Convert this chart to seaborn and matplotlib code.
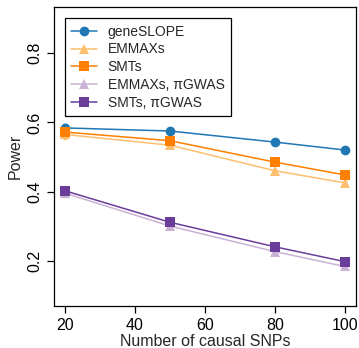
import numpy as np
import pandas as pd
import matplotlib
matplotlib.use("Agg")
import matplotlib.pyplot as plt
import seaborn as sns

# Number of causal SNPs
n_causal = [20, 50, 80, 100]

# Power per method
power_geneslope = [0.584, 0.575, 0.543, 0.520]
power_emmaxs = [0.565, 0.534, 0.460, 0.425]
power_smts = [0.572, 0.547, 0.485, 0.448]
power_emmaxs_pi = [0.395, 0.300, 0.226, 0.183]
power_smts_pi = [0.402, 0.311, 0.240, 0.197]

# Standard errors
se_geneslope = [0.010, 0.004, 0.004, 0.004]
se_emmaxs = [0.012, 0.006, 0.006, 0.006]
se_smts = [0.010, 0.005, 0.005, 0.005]
se_emmaxs_pi = [0.010, 0.005, 0.005, 0.005]
se_smts_pi = [0.012, 0.005, 0.005, 0.005]

methods = ["geneSLOPE", "EMMAXs", "SMTs", "EMMAXs, πGWAS", "SMTs, πGWAS"]
colors = ["#1f78b4", "#fdbf6f", "#ff7f00", "#cab2d6", "#6a3d9a"]
markers = ["o", "^", "s", "^", "s"]

power = [power_geneslope, power_emmaxs, power_smts, power_emmaxs_pi, power_smts_pi]
se = [se_geneslope, se_emmaxs, se_smts, se_emmaxs_pi, se_smts_pi]

df = pd.DataFrame({
    "snps": np.tile(n_causal, len(methods)),
    "power": np.concatenate(power),
    "se": np.concatenate(se),
    "method": np.repeat(methods, len(n_causal)),
})

sns.set_style("ticks")
plt.rcParams["font.family"] = ["Liberation Sans", "DejaVu Sans"]

fig = plt.figure(figsize=(3.59, 3.48), dpi=100)
ax = fig.add_axes([0.150, 0.121, 0.842, 0.859])

# Error bars drawn first so the markers sit on top
for m, c in zip(methods, colors):
    sub = df[df["method"] == m]
    ax.errorbar(sub["snps"], sub["power"], yerr=sub["se"], fmt="none",
                ecolor=c, elinewidth=1.0, capsize=1.5, capthick=1.0, zorder=2)

sns.lineplot(data=df, x="snps", y="power", hue="method", style="method",
             hue_order=methods, style_order=methods,
             palette=dict(zip(methods, colors)),
             markers=dict(zip(methods, markers)), dashes=False,
             markersize=7, markeredgewidth=0, linewidth=1.1,
             ax=ax, legend=True, zorder=3)

ax.set_xlim(16.8, 103.2)
ax.set_ylim(0.069, 0.934)
ax.set_xticks([20, 40, 60, 80, 100])
ax.set_yticks([0.2, 0.4, 0.6, 0.8])
ax.set_yticklabels(["0.2", "0.4", "0.6", "0.8"], rotation=90, va="center")
ax.tick_params(axis="both", labelsize=11.5, length=5, width=0.9, colors="black")
for s in ax.spines.values():
    s.set_visible(True)
    s.set_linewidth(0.9)
    s.set_color("black")

ax.set_xlabel("Number of causal SNPs", fontsize=11.5, labelpad=1)
ax.set_ylabel("Power", fontsize=11.5, labelpad=3)

handles, labels = ax.get_legend_handles_labels()
leg = ax.legend(handles, labels, loc="upper left", bbox_to_anchor=(0.036, 0.962),
                borderaxespad=0, fontsize=10, fancybox=False, edgecolor="black",
                framealpha=1, handlelength=1.9, labelspacing=0.28,
                handletextpad=0.75, borderpad=0.45)
leg.get_frame().set_linewidth(0.9)

fig.savefig("out.png", dpi=100)
